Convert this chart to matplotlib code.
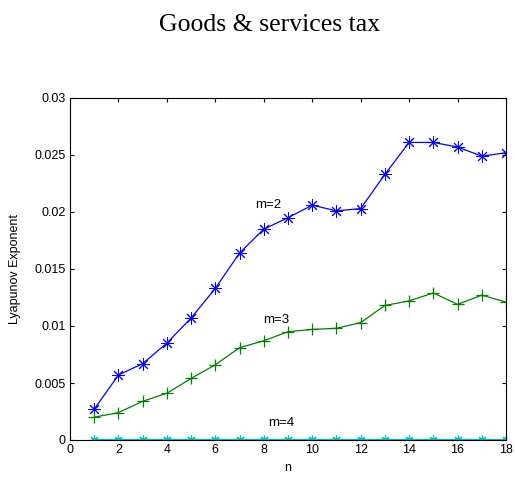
import matplotlib
matplotlib.use('Agg')
import matplotlib.pyplot as plt
import numpy as np

# donnees
n = np.arange(1, 19)
m2 = [0.0027, 0.0057, 0.0067, 0.0085, 0.0107, 0.0133, 0.0164, 0.0185, 0.0195,
      0.0206, 0.0201, 0.0203, 0.0233, 0.0261, 0.0261, 0.0257, 0.0249, 0.0252]
m3 = [0.0020, 0.0024, 0.0034, 0.0041, 0.0054, 0.0066, 0.0081, 0.0087, 0.0095,
      0.0097, 0.0098, 0.0103, 0.0118, 0.0122, 0.0129, 0.0119, 0.0127, 0.0121]
m4 = [0.0] * 18

labels = ['m=2', 'm=3', 'm=4']
label_x = [8.2, 8.5, 8.7]
label_y = [0.0206, 0.0105, 0.0015]

plt.rcParams['font.family'] = ['Liberation Sans', 'DejaVu Sans']

fig = plt.figure(figsize=(5.15, 4.78), dpi=100)
ax = fig.add_axes([70/515, 1 - 440/478, 436/515, 342/478])

asterisk = (8, 2, 0)
ax.plot(n, m2, color=(0, 0, 1), lw=0.9, marker=asterisk, ms=9, mew=0.7)
ax.plot(n, m3, color=(0, 0.5, 0), lw=0.9, marker='+', ms=8, mew=0.9)
ax.plot(n, m4, color=(0, 0.75, 0.75), lw=1.6, marker=asterisk, ms=7, mew=0.9)

for t, x, y in zip(labels, label_x, label_y):
    ax.text(x, y, t, fontsize=9.5, ha='center', va='center')

ax.set_xlim(0, 18)
ax.set_ylim(0, 0.03)
ax.set_xticks(np.arange(0, 19, 2))
ax.set_yticks([0, 0.005, 0.01, 0.015, 0.02, 0.025, 0.03])
ax.set_yticklabels(['0', '0.005', '0.01', '0.015', '0.02', '0.025', '0.03'])
ax.tick_params(direction='in', top=True, right=True, labelsize=9, length=3, pad=3)
ax.set_xlabel('n', fontsize=9, labelpad=4)
ax.set_ylabel('Lyapunov Exponent', fontsize=9, labelpad=10)

fig.text(0.524, 1 - 25/478, 'Goods & services tax', family='Liberation Serif',
         fontsize=18.5, ha='center', va='center')

fig.savefig('out.png', dpi=100)
